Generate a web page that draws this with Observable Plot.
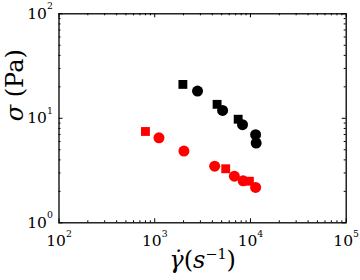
<!DOCTYPE html>
<html><head><meta charset="utf-8">
<script src="https://cdn.jsdelivr.net/npm/d3@7"></script>
<script src="https://cdn.jsdelivr.net/npm/@observablehq/plot@0.6"></script>
<style>body{margin:0;background:#fff} svg{display:block}</style>
</head><body><div id="chart"></div>
<script>
// Data
const blackSquareX = [1968, 4480, 7440];
const blackSquareY = [21.1, 13.6, 9.8];
const blackCircleX = [2798, 5116, 8260, 11320, 11470];
const blackCircleY = [18.2, 11.9, 8.69, 6.97, 5.80];
const redSquareX = [800, 5510, 9750];
const redSquareY = [7.48, 3.29, 2.50];
const redCircleX = [1107, 2018, 4227, 6790, 8380, 11320];
const redCircleY = [6.51, 4.86, 3.48, 2.79, 2.52, 2.18];
const xTicks = [1e2, 1e3, 1e4, 1e5];
const yTicks = [1, 10, 100];
const xTickLabels = ["10^2", "10^3", "10^4", "10^5"];
const yTickLabels = ["10^0", "10^1", "10^2"];
const minorMultipliers = [2, 3, 4, 5, 6, 7, 8, 9];

const W = 360, H = 280, mL = 58.5, mR = 14.3, mT = 13.3, mB = 57.7;
const frameW = W - mL - mR, frameH = H - mT - mB;
const xMinor = xTicks.slice(0, -1).flatMap(d => minorMultipliers.map(m => m * d));
const yMinor = yTicks.slice(0, -1).flatMap(d => minorMultipliers.map(m => m * d));
const pts = (X, Y) => X.map((x, i) => ({x, y: Y[i]}));
const serif = "DejaVu Serif";
const majorLen = 4, minorLen = 2;

const plot = Plot.plot({
  width: W, height: H,
  marginLeft: mL, marginRight: mR, marginTop: mT, marginBottom: mB,
  x: {type: "log", domain: [1e2, 1e5]},
  y: {type: "log", domain: [1, 1e2]},
  style: {fontFamily: serif, background: "#fff", color: "#000"},
  marks: [
    // inward ticks on all four sides
    Plot.tickX(xTicks, {x: d => d, insetTop: frameH - majorLen, stroke: "#000"}),
    Plot.tickX(xTicks, {x: d => d, insetBottom: frameH - majorLen, stroke: "#000"}),
    Plot.tickX(xMinor, {x: d => d, insetTop: frameH - minorLen, stroke: "#000"}),
    Plot.tickX(xMinor, {x: d => d, insetBottom: frameH - minorLen, stroke: "#000"}),
    Plot.tickY(yTicks, {y: d => d, insetRight: frameW - majorLen, stroke: "#000"}),
    Plot.tickY(yTicks, {y: d => d, insetLeft: frameW - majorLen, stroke: "#000"}),
    Plot.tickY(yMinor, {y: d => d, insetRight: frameW - minorLen, stroke: "#000"}),
    Plot.tickY(yMinor, {y: d => d, insetLeft: frameW - minorLen, stroke: "#000"}),
    Plot.frame({stroke: "#000", strokeWidth: 1.3}),
    Plot.dot(pts(blackSquareX, blackSquareY), {x: "x", y: "y", symbol: "square", r: 5, fill: "#000"}),
    Plot.dot(pts(blackCircleX, blackCircleY), {x: "x", y: "y", symbol: "circle", r: 5.5, fill: "#000"}),
    Plot.dot(pts(redSquareX, redSquareY), {x: "x", y: "y", symbol: "square", r: 5, fill: "#ff0000"}),
    Plot.dot(pts(redCircleX, redCircleY), {x: "x", y: "y", symbol: "circle", r: 5.5, fill: "#ff0000"}),
    Plot.axisX({ticks: xTicks, tickSize: 0, tickPadding: 12, fontSize: 15.5, label: null, fill: "#000",
      tickFormat: d => xTickLabels[xTicks.indexOf(d)]}),
    Plot.axisY({ticks: yTicks, tickSize: 0, tickPadding: 6.2, fontSize: 15.5, label: null, fill: "#000",
      tickFormat: d => yTickLabels[yTicks.indexOf(d)]}),
    Plot.text(["σ (Pa)"], {frameAnchor: "left", dx: -44, dy: 3, rotate: -90, fontSize: 24,
      fontFamily: serif, className: "ylab", fill: "#000"}),
    Plot.text(["γ̇(s−1)"], {frameAnchor: "bottom", dy: 45, fontSize: 24,
      fontFamily: serif, className: "xlab", fill: "#000"})
  ]
});

const root = d3.select(plot);
// superscript exponents on tick labels
root.selectAll("g[aria-label='x-axis tick label'] text, g[aria-label='y-axis tick label'] text").each(function() {
  const t = this.textContent;
  const [b, e] = t.split("^");
  const s = d3.select(this);
  s.text("");
  s.append("tspan").text(b);
  s.append("tspan").attr("font-size", "0.6em").attr("dy", "-1em").text(e);
});
// y label: italic sigma
root.selectAll(".ylab text").each(function() {
  const s = d3.select(this);
  s.text("");
  s.append("tspan").attr("font-style", "italic").text("σ");
  s.append("tspan").text(" (Pa)");
});
// x label: italic gamma-dot, s with superscript −1
root.selectAll(".xlab text").each(function() {
  const s = d3.select(this);
  s.text("");
  s.append("tspan").attr("font-style", "italic").text("γ̇");
  s.append("tspan").text("(");
  s.append("tspan").attr("font-style", "italic").text("s");
  s.append("tspan").attr("font-size", "0.6em").attr("dy", "-9").text("−1");
  s.append("tspan").attr("dy", "9").text(")");
});
document.getElementById("chart").appendChild(plot);
</script>
</body></html>
